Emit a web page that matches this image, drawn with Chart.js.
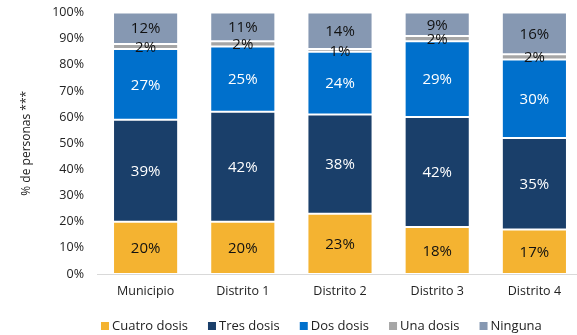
<!DOCTYPE html>
<html>
<head>
<meta charset="utf-8">
<script src="https://cdn.jsdelivr.net/npm/chart.js@4"></script>
<style>
  html, body { margin: 0; padding: 0; background: #fff; overflow: hidden; }
  #wrap { width: 577px; height: 335px; overflow: hidden; }
</style>
</head>
<body>
<div id="wrap"><canvas id="chart" width="583" height="335"></canvas></div>
<script>
var zonas = ['Municipio', 'Distrito 1', 'Distrito 2', 'Distrito 3', 'Distrito 4'];

var cuatroDosis = [20, 20, 23, 18, 17];
var tresDosis = [39, 42, 38, 42, 35];
var dosDosis = [27, 25, 24, 29, 30];
var unaDosis = [2, 2, 1, 2, 2];
var ninguna = [12, 11, 14, 9, 16];

var colores = {
    cuatro: '#F4B331',
    tres: '#1A3F6A',
    dos: '#0070CC',
    una: '#A6A6A6',
    ninguna: '#8698B2'
};

var fuente = "'Open Sans', 'DejaVu Sans', sans-serif";

function serie(nombre, datos, color, texto) {
    return {
        label: nombre,
        data: datos,
        backgroundColor: color,
        borderColor: 'rgba(255,255,255,0.5)',
        borderWidth: 1,
        borderSkipped: false,
        barPercentage: 0.67,
        categoryPercentage: 1,
        textColor: texto
    };
}

// etiquetas de porcentaje en el centro de cada tramo
var etiquetas = {
    id: 'etiquetas',
    afterDatasetsDraw: function (chart) {
        var ctx = chart.ctx;
        ctx.save();
        ctx.font = '15px ' + fuente;
        ctx.textAlign = 'center';
        ctx.textBaseline = 'middle';
        chart.data.datasets.forEach(function (ds, i) {
            var meta = chart.getDatasetMeta(i);
            meta.data.forEach(function (bar, j) {
                var y = (bar.y + bar.base) / 2;
                ctx.fillStyle = ds.textColor;
                ctx.fillText(ds.data[j] + '%', bar.x, y + 1);
            });
        });
        ctx.restore();
    }
};

// leyenda inferior dibujada a mano (cuadritos pequeños y texto pegado)
var leyenda = {
    id: 'leyenda',
    afterDraw: function (chart) {
        var ctx = chart.ctx;
        ctx.save();
        ctx.font = '13px ' + fuente;
        ctx.textBaseline = 'middle';
        ctx.textAlign = 'left';
        var x = 101, y = 326;
        chart.data.datasets.forEach(function (ds) {
            ctx.fillStyle = ds.backgroundColor;
            ctx.fillRect(x, y - 4, 8, 8);
            ctx.fillStyle = '#222';
            ctx.fillText(ds.label, x + 11, y);
            x += 11 + ctx.measureText(ds.label).width + 20;
        });
        ctx.restore();
    }
};

var ctx = document.getElementById('chart').getContext('2d');
new Chart(ctx, {
    type: 'bar',
    data: {
        labels: zonas,
        datasets: [
            serie('Cuatro dosis', cuatroDosis, colores.cuatro, '#111'),
            serie('Tres dosis', tresDosis, colores.tres, '#fff'),
            serie('Dos dosis', dosDosis, colores.dos, '#fff'),
            serie('Una dosis', unaDosis, colores.una, '#111'),
            serie('Ninguna', ninguna, colores.ninguna, '#111')
        ]
    },
    options: {
        responsive: false,
        animation: false,
        layout: { padding: { top: -4, right: 0, left: 0, bottom: 34 } },
        plugins: {
            legend: { display: false },
            tooltip: { enabled: false }
        },
        scales: {
            x: {
                stacked: true,
                grid: { display: false },
                border: { color: '#d9d9d9', width: 1 },
                ticks: {
                    color: '#222',
                    padding: 2,
                    font: { family: fuente, size: 12.5 }
                }
            },
            y: {
                stacked: true,
                min: 0,
                max: 100,
                afterFit: function (scale) { scale.width = 97; },
                grid: { display: false },
                border: { display: false },
                ticks: {
                    stepSize: 10,
                    color: '#222',
                    padding: 5,
                    font: { family: fuente, size: 12.5 },
                    callback: function (v) { return v + '%'; }
                },
                title: {
                    display: true,
                    text: '% de personas ***',
                    color: '#222',
                    padding: { top: 19, bottom: 0 },
                    font: { family: fuente, size: 12 }
                }
            }
        }
    },
    plugins: [etiquetas, leyenda]
});
</script>
</body>
</html>
